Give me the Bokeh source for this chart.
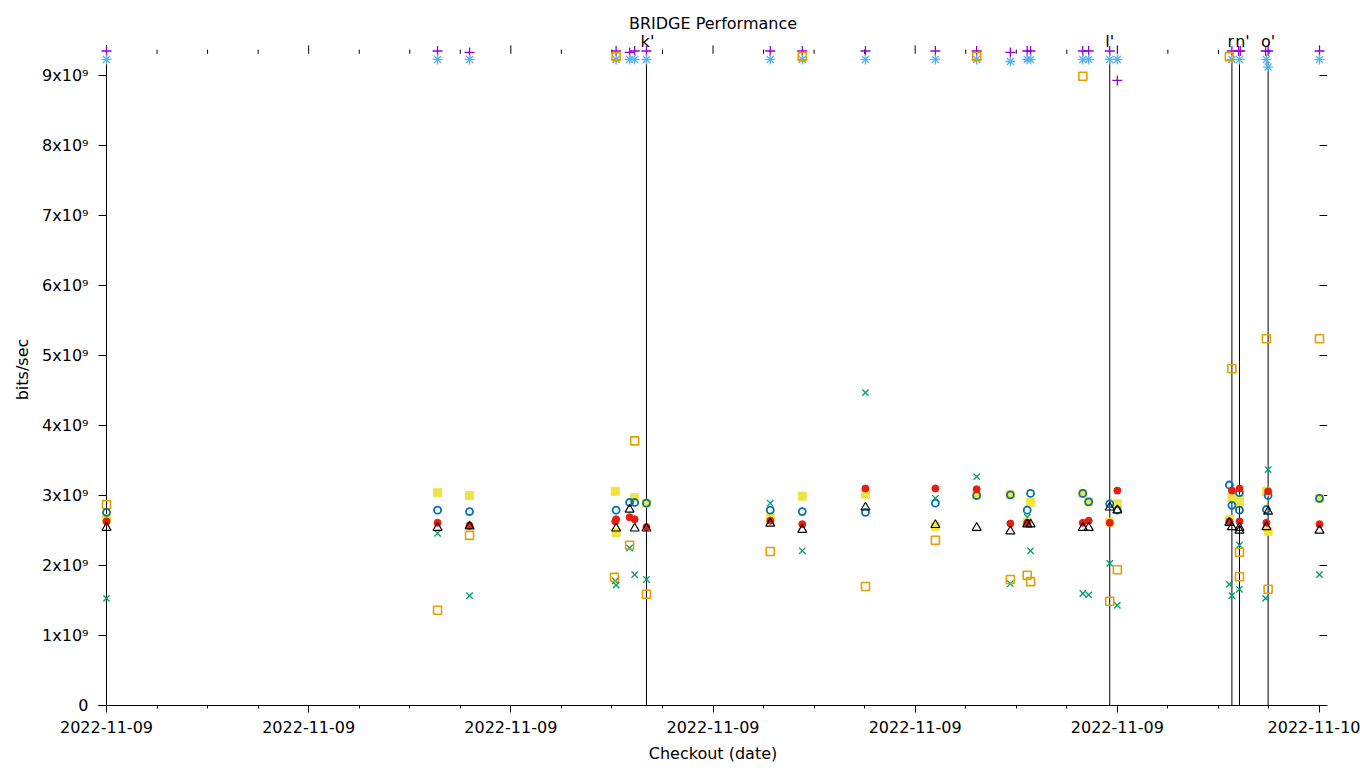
from datetime import datetime, timedelta
from bokeh.plotting import figure
from bokeh.models import (Range1d, FixedTicker, DatetimeTickFormatter,
                          CustomJSTickFormatter, Label)
from bokeh.embed import file_html
from bokeh.resources import INLINE

TITLE = "BRIDGE Performance"
X_LABEL = "Checkout (date)"
Y_LABEL = "bits/sec"

# ---------------- data (values in units of 1e9 bits/sec) ----------------
x_tick_times = ["00:00", "04:00", "08:00", "12:00", "16:00", "20:00", "24:00"]
x_minor_times = ["%02d:00" % h for h in range(25) if h % 4 != 0]
y_tick_values = [0, 1e9, 2e9, 3e9, 4e9, 5e9, 6e9, 7e9, 8e9, 9e9]
y_tick_labels = ["0", "1x10⁹", "2x10⁹", "3x10⁹", "4x10⁹", "5x10⁹",
                 "6x10⁹", "7x10⁹", "8x10⁹", "9x10⁹"]

s1_t = ["00:00", "06:33", "07:11", "10:05", "10:21", "10:27", "10:41", "13:08", "13:46",
        "15:01", "16:24", "17:13", "17:53", "18:13", "18:17", "19:19", "19:26", "19:51",
        "20:00", "22:16", "22:24", "22:26", "22:56", "22:59", "24:00"]
s1_v = [9.35, 9.35, 9.33, 9.35, 9.33, 9.35, 9.35, 9.35, 9.35,
        9.35, 9.35, 9.35, 9.33, 9.35, 9.35, 9.35, 9.35, 9.35,
        8.93, 9.35, 9.35, 9.35, 9.35, 9.35, 9.35]

s2_t = ["00:00", "06:33", "07:11", "10:04", "10:05", "10:21", "10:27", "10:41", "13:08",
        "13:46", "15:01", "16:24", "17:13", "17:53", "18:13", "18:17", "19:19", "19:26",
        "19:51", "20:00", "22:13", "22:16", "22:25", "22:25", "22:56", "22:59", "24:00"]
s2_v = [1.53, 2.46, 1.57, 1.78, 1.72, 2.25, 1.87, 1.80, 2.89,
        2.21, 4.47, 2.96, 3.27, 1.74, 2.69, 2.21, 1.60, 1.58,
        2.03, 1.43, 1.73, 1.57, 2.29, 1.66, 1.53, 3.37, 1.87]

s3_t = ["00:00", "06:33", "07:11", "10:05", "10:21", "10:27", "10:41", "13:08", "13:46",
        "15:01", "16:24", "17:13", "17:53", "18:13", "18:17", "19:19", "19:26", "19:51",
        "20:00", "22:16", "22:25", "22:57", "22:59", "24:00"]
s3_v = [9.23, 9.23, 9.23, 9.23, 9.23, 9.23, 9.23, 9.23, 9.23,
        9.23, 9.23, 9.23, 9.20, 9.23, 9.23, 9.23, 9.23, 9.23,
        9.23, 9.23, 9.23, 9.23, 9.12, 9.23]

s4_t = ["00:00", "06:33", "07:11", "10:03", "10:05", "10:21", "10:27", "10:41", "13:08",
        "13:46", "15:01", "16:24", "17:13", "17:53", "18:13", "18:17", "19:19", "19:51",
        "20:00", "22:13", "22:16", "22:25", "22:25", "22:57", "22:59", "24:00"]
s4_v = [2.87, 1.36, 2.43, 1.83, 9.27, 2.29, 3.78, 1.59, 2.20,
        9.27, 1.70, 2.36, 9.27, 1.80, 1.86, 1.77, 8.99, 1.49,
        1.94, 9.27, 4.81, 2.19, 1.84, 5.24, 1.66, 5.24]

s5_t = ["00:00", "06:33", "07:11", "10:04", "10:05", "10:27", "10:41", "13:08", "13:46",
        "15:01", "16:24", "17:13", "17:53", "18:17", "18:13", "19:19", "19:26", "19:51",
        "20:00", "22:13", "22:16", "22:25", "22:25", "22:57", "22:59", "24:00"]
s5_v = [2.67, 3.04, 3.00, 3.06, 2.47, 2.97, 2.89, 2.69, 2.99,
        3.02, 2.56, 3.00, 3.01, 2.90, 2.62, 3.03, 2.91, 2.62,
        2.88, 2.66, 2.97, 2.95, 2.90, 3.06, 2.49, 2.96]

s6_t = ["00:00", "06:33", "07:11", "10:05", "10:21", "10:27", "10:41", "13:08", "13:46",
        "15:01", "16:24", "17:13", "17:53", "18:13", "18:17", "19:19", "19:26", "19:51",
        "20:00", "22:13", "22:16", "22:25", "22:25", "22:57", "22:59", "24:00"]
s6_v = [2.76, 2.79, 2.77, 2.79, 2.90, 2.90, 2.89, 2.79, 2.77,
        2.76, 2.89, 3.00, 3.01, 2.79, 3.03, 3.03, 2.91, 2.88,
        2.79, 3.15, 2.86, 3.04, 2.79, 2.80, 3.00, 2.96]

s7_t = ["00:00", "06:33", "07:11", "10:04", "10:05", "10:21", "10:27", "10:41", "13:08",
        "13:46", "15:01", "16:24", "17:13", "17:53", "18:13", "19:19", "19:26", "19:51",
        "20:00", "22:13", "22:16", "22:25", "22:25", "22:57", "22:59", "24:00"]
s7_v = [2.63, 2.61, 2.57, 2.63, 2.66, 2.69, 2.66, 2.55, 2.64,
        2.59, 3.10, 3.10, 3.09, 2.60, 2.61, 2.61, 2.64, 2.61,
        3.07, 2.63, 3.07, 3.10, 2.63, 2.61, 3.06, 2.59]

s8_t = ["00:00", "06:33", "07:11", "10:05", "10:21", "10:27", "10:41", "13:08", "13:46",
        "15:01", "16:24", "17:13", "17:53", "18:13", "18:17", "19:19", "19:26", "19:51",
        "20:00", "22:13", "22:16", "22:25", "22:25", "22:57", "22:59", "24:00"]
s8_v = [2.54, 2.54, 2.56, 2.53, 2.80, 2.53, 2.53, 2.60, 2.51,
        2.83, 2.58, 2.54, 2.49, 2.59, 2.59, 2.54, 2.54, 2.83,
        2.79, 2.61, 2.55, 2.54, 2.50, 2.55, 2.77, 2.50]

event_t = ["10:41", "19:51", "22:16", "22:25", "22:59"]
event_labels = ["k'", "l'", "r", "n'", "o'"]
event_top = [9.2, 9.2, 9.2, 9.2, 9.2]

# ---------------- helpers ----------------
BASE = datetime(2022, 11, 9)
EPOCH = datetime(1970, 1, 1)


def ts(hm):
    h, m = hm.split(":")
    return BASE + timedelta(hours=int(h), minutes=int(m))


def ms(dt):
    return (dt - EPOCH).total_seconds() * 1000.0


def g(vals):
    return [v * 1e9 for v in vals]


FONT = "DejaVu Sans"
FS = "16px"

# layout / style constants
Y_MAX = 9.6e9          # frame top (room for marker labels inside frame)
BORDER_TOP = 9.43e9    # top of left border / top tick marks
TOP_TICK_BASE = 9.31e9
TOP_MINOR_TOP = 9.37e9
LABEL_Y = 9.48e9
LABEL_DX = [1, 0, -1, 3, 0]   # small pixel nudges so "r" and "n'" do not collide

x_start = ts(x_tick_times[0])
x_end = ts(x_tick_times[-1])
pad = timedelta(minutes=9.5)

p = figure(width=1360, height=768, x_axis_type="datetime",
           x_range=Range1d(x_start - pad, x_end + pad),
           y_range=Range1d(0, Y_MAX),
           output_backend="svg", toolbar_location=None,
           min_border_left=98, min_border_right=33,
           min_border_top=33, min_border_bottom=63)
p.outline_line_color = None
p.xgrid.grid_line_color = None
p.ygrid.grid_line_color = None
p.background_fill_color = "white"
p.border_fill_color = "white"

p.title.text = TITLE
p.title.align = "center"
p.title.text_font = FONT
p.title.text_font_size = FS
p.title.text_font_style = "normal"
p.title.text_color = "black"
p.title.standoff = 1

fmt_str = "%Y-%m-%d"
dt_fmt = DatetimeTickFormatter(microseconds=fmt_str, milliseconds=fmt_str, seconds=fmt_str,
                               minsec=fmt_str, minutes=fmt_str, hourmin=fmt_str,
                               hours=fmt_str, days=fmt_str, months=fmt_str, years=fmt_str)
x_ticker = FixedTicker(ticks=[ms(ts(t)) for t in x_tick_times],
                       minor_ticks=[ms(ts(t)) for t in x_minor_times])

xa = p.xaxis[0]
xa.ticker = x_ticker
xa.formatter = dt_fmt
xa.axis_label = X_LABEL
xa.axis_label_text_font = FONT
xa.axis_label_text_font_size = FS
xa.axis_label_text_font_style = "normal"
xa.axis_label_text_color = "black"
xa.axis_label_standoff = 8
xa.major_label_text_font = FONT
xa.major_label_text_font_size = FS
xa.major_label_text_color = "black"
xa.major_label_standoff = 8
xa.major_tick_out = 7
xa.major_tick_in = 0
xa.minor_tick_out = 3
xa.minor_tick_in = 0
xa.axis_line_color = "black"
xa.major_tick_line_color = "black"
xa.minor_tick_line_color = "black"

y_fmt = CustomJSTickFormatter(args=dict(vals=y_tick_values, labs=y_tick_labels), code="""
    for (let i = 0; i < vals.length; i++) { if (Math.abs(vals[i] - tick) < 1) return labs[i]; }
    return "";
""")
ya = p.yaxis[0]
ya.ticker = FixedTicker(ticks=y_tick_values, minor_ticks=[])
ya.formatter = y_fmt
ya.axis_line_color = None
ya.axis_label = Y_LABEL
ya.axis_label_text_font = FONT
ya.axis_label_text_font_size = FS
ya.axis_label_text_font_style = "normal"
ya.axis_label_text_color = "black"
ya.axis_label_standoff = 7
ya.major_label_text_font = FONT
ya.major_label_text_font_size = FS
ya.major_label_text_color = "black"
ya.major_label_standoff = 10
ya.major_tick_out = 0
ya.major_tick_in = 8
ya.minor_tick_out = 0
ya.minor_tick_in = 0
ya.major_tick_line_color = "black"

# left border line at the first x tick
p.segment(x0=[x_start], y0=[0], x1=[x_start], y1=[BORDER_TOP], line_color="black", line_width=1)

# mirrored tick marks on top and right
maj = [ts(t) for t in x_tick_times]
mnr = [ts(t) for t in x_minor_times]
p.segment(x0=maj, y0=[TOP_TICK_BASE] * len(maj), x1=maj, y1=[BORDER_TOP] * len(maj),
          line_color="black", line_width=1)
p.segment(x0=mnr, y0=[TOP_TICK_BASE] * len(mnr), x1=mnr, y1=[TOP_MINOR_TOP] * len(mnr),
          line_color="black", line_width=1)
p.segment(x0=[x_end] * len(y_tick_values), y0=y_tick_values,
          x1=[x_end + pad] * len(y_tick_values), y1=y_tick_values,
          line_color="black", line_width=1)

# event lines
p.segment(x0=[ts(t) for t in event_t], y0=[0] * len(event_t),
          x1=[ts(t) for t in event_t], y1=g(event_top),
          line_color="black", line_width=1)

series = [
    (s1_t, s1_v, dict(marker="cross", size=10, line_color="#9400d3", line_width=1.3)),
    (s2_t, s2_v, dict(marker="x", size=9, line_color="#009e73", line_width=1.3)),
    (s3_t, s3_v, dict(marker="asterisk", size=10, line_color="#56b4e9", line_width=1.3)),
    (s4_t, s4_v, dict(marker="square", size=8, line_color="#e69f00", fill_color=None, line_width=1.6)),
    (s5_t, s5_v, dict(marker="square", size=8, line_color="#f0e442", fill_color="#f0e442", line_width=1)),
    (s6_t, s6_v, dict(marker="circle", size=7, line_color="#0072b2", fill_color=None, line_width=1.8)),
    (s7_t, s7_v, dict(marker="circle", size=7, line_color="#e51e10", fill_color="#e51e10", line_width=1)),
    (s8_t, s8_v, dict(marker="triangle", size=9, line_color="black", fill_color=None, line_width=1.2)),
]
for t, v, style in series:
    p.scatter(x=[ts(s) for s in t], y=g(v), **style)

for t, lab, dx in zip(event_t, event_labels, LABEL_DX):
    p.add_layout(Label(x=ms(ts(t)), y=LABEL_Y, text=lab, text_align="center",
                       x_offset=dx, text_baseline="middle", text_font=FONT,
                       text_font_size=FS, text_color="black"))

open("out.html", "w").write(file_html(p, INLINE))
